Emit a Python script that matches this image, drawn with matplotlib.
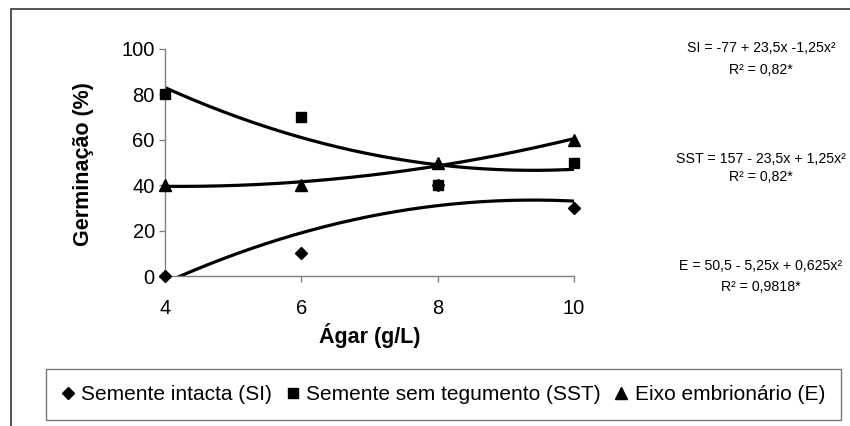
import numpy as np
import matplotlib
matplotlib.use("Agg")
import matplotlib.pyplot as plt
from matplotlib.patches import Rectangle

# donnees
agar = [4, 6, 8, 10]
si_vals = [0, 10, 40, 30]
sst_vals = [80, 70, 40, 50]
e_vals = [40, 40, 50, 60]

# coefficients des regressions (a + b x + c x^2)
si_coef = [-77, 23.5, -1.25]
sst_coef = [157, -23.5, 1.25]
e_coef = [50.5, -5.25, 0.625]

serie_labels = ["Semente intacta (SI)", "Semente sem tegumento (SST)", "Eixo embrionário (E)"]
eq_texts = [
  ("SI = -77 + 23,5x -1,25x²", "R² = 0,82*"),
  ("SST = 157 - 23,5x + 1,25x²", "R² = 0,82*"),
  ("E = 50,5 - 5,25x + 0,625x²", "R² = 0,9818*"),
]
y_ticks = [0, 20, 40, 60, 80, 100]
x_ticks = [4, 6, 8, 10]

plt.rcParams['font.family'] = ['Liberation Sans', 'DejaVu Sans']

fig = plt.figure(figsize=(8.5, 4.26), dpi=100)
ax = fig.add_axes([165/850, 1 - 276/426, 409/850, 227/426])

xs = np.linspace(4, 10, 200)
for coef in (si_coef, sst_coef, e_coef):
  ys = coef[0] + coef[1]*xs + coef[2]*xs**2
  ax.plot(xs, ys, c="black", lw=2.3)

ax.plot(agar, si_vals, ls="none", marker="D", ms=6.5, c="black", clip_on=False, zorder=5)
ax.plot(agar, sst_vals, ls="none", marker="s", ms=7, c="black", clip_on=False, zorder=5)
ax.plot(agar, e_vals, ls="none", marker="^", ms=8, c="black", clip_on=False, zorder=5)

ax.set_xlim(4, 10)
ax.set_ylim(0, 100)
ax.set_xticks(x_ticks)
ax.set_yticks(y_ticks)
for s in ("top", "right"):
  ax.spines[s].set_visible(False)
for s in ("left", "bottom"):
  ax.spines[s].set_color("#808080")
  ax.spines[s].set_linewidth(1)
ax.tick_params(axis="y", direction="out", length=4.3, width=1, color="#808080", pad=3, labelsize=14.5)
ax.tick_params(axis="x", direction="out", length=4.3, width=1, color="#808080", pad=12, labelsize=14.5)

ax.set_xlabel("Ágar (g/L)", fontsize=15.5, fontweight="bold", va="center")
ax.xaxis.set_label_coords(0.5, -0.264)
ax.set_ylabel("Germinação (%)", fontsize=15.5, fontweight="bold", va="center")
ax.yaxis.set_label_coords(-0.200, 0.493)

# equations des courbes
eq_y = [(48, 70), (159, 177), (266, 287)]
for (l1, l2), (y1, y2) in zip(eq_texts, eq_y):
  fig.text(761/850, 1 - y1/426, l1, ha="center", va="center", fontsize=10.2)
  fig.text(761/850, 1 - y2/426, l2, ha="center", va="center", fontsize=10.2)

# legende
handles = [
  plt.Line2D([], [], ls="none", marker="D", ms=6.5, c="black"),
  plt.Line2D([], [], ls="none", marker="s", ms=7, c="black"),
  plt.Line2D([], [], ls="none", marker="^", ms=8, c="black"),
]
leg = fig.legend(handles, serie_labels, ncol=3, loc="center",
                 bbox_to_anchor=(46/850, 1 - 423/426, 795/850, 57/426), mode="expand",
                 borderaxespad=0, fontsize=15, frameon=True, fancybox=False, borderpad=0.75,
                 handlelength=0.6, handletextpad=0.35, columnspacing=1.0)
leg.get_frame().set_edgecolor("#555555")
leg.get_frame().set_linewidth(1)

# cadre exterieur
fig.patches.append(Rectangle((11/850, -0.1), 1.0, 1 - 9/426 + 0.1, transform=fig.transFigure,
                             fill=False, ec="#333333", lw=1.2))

fig.savefig("out.png", dpi=100)
